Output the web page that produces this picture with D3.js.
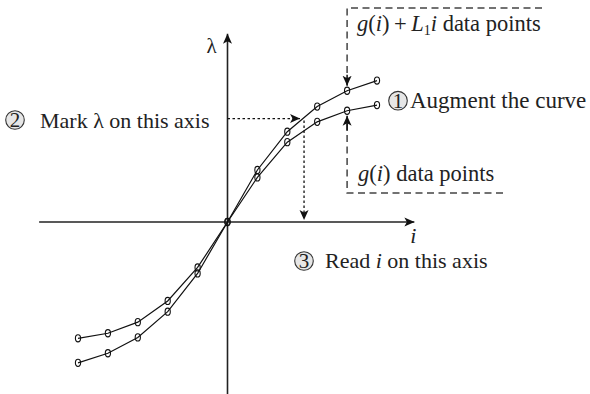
<!DOCTYPE html>
<html>
<head>
<meta charset="utf-8">
<script src="https://cdn.jsdelivr.net/npm/d3@7"></script>
<style>
  html, body { margin: 0; padding: 0; background: #fff; }
  svg { display: block; font-family: "Liberation Serif", "DejaVu Serif", serif; }
</style>
</head>
<body>
<svg id="chart" width="590" height="394"></svg>
<script>
// Current steps i and the two sampled curves
const steps = [-5, -4, -3, -2, -1, 0, 1, 2, 3, 4, 5];
const gValues = [-3.89, -3.72, -3.35, -2.64, -1.52, 0, 1.49, 2.67, 3.35, 3.72, 3.91];
const augmentedValues = [-4.71, -4.39, -3.86, -3.00, -1.72, 0, 1.74, 3.02, 3.86, 4.39, 4.73];

// Axis extents (in i and λ units)
const iAxisExtent = [-6.3, 6.25];
const lambdaAxisExtent = [-5.75, 6.3];

// The λ that is marked and the i that is read back
const markedLambda = 3.46;
const readI = 2.56;
// Step at which the two data-point call-outs point
const calloutStep = 4;

const svg = d3.select("#chart");
const x = d3.scaleLinear().domain([-6, 6]).range([227.5 - 179.4, 227.5 + 179.4]);
const y = d3.scaleLinear().domain([-6, 6]).range([222 + 179.4, 222 - 179.4]);

// Arrowhead marker
svg.append("defs").append("marker")
  .attr("id", "head")
  .attr("viewBox", "0 0 10 10")
  .attr("refX", 10).attr("refY", 5)
  .attr("markerWidth", 10).attr("markerHeight", 10)
  .attr("markerUnits", "userSpaceOnUse")
  .attr("orient", "auto")
  .append("path").attr("d", "M0,0.5 L10,5 L0,9.5 L2.5,5 Z").attr("fill", "#111");

// Axes
svg.append("line")
  .attr("x1", x(iAxisExtent[0])).attr("x2", x(iAxisExtent[1]))
  .attr("y1", y(0)).attr("y2", y(0))
  .attr("stroke", "#222").attr("stroke-width", 1.6)
  .attr("marker-end", "url(#head)");
svg.append("line")
  .attr("x1", x(0)).attr("x2", x(0))
  .attr("y1", y(lambdaAxisExtent[0])).attr("y2", y(lambdaAxisExtent[1]))
  .attr("stroke", "#222").attr("stroke-width", 1.6)
  .attr("marker-end", "url(#head)");

svg.append("text").attr("x", x(0) - 16).attr("y", y(lambdaAxisExtent[1]) + 19)
  .attr("text-anchor", "middle").attr("font-size", 21).attr("fill", "#222").text("λ");
svg.append("text").attr("x", x(iAxisExtent[1]) - 1).attr("y", y(0) + 21)
  .attr("text-anchor", "middle").attr("font-size", 22).attr("font-style", "italic")
  .attr("fill", "#222").text("i");

// Curves with hollow data-point markers
const line = d3.line().x(d => x(d[0])).y(d => y(d[1]));
[gValues, augmentedValues].forEach(vals => {
  const pts = steps.map((s, k) => [s, vals[k]]);
  svg.append("path").datum(pts).attr("d", line)
    .attr("fill", "none").attr("stroke", "#111").attr("stroke-width", 1.2);
  svg.selectAll(null).data(pts).enter().append("ellipse")
    .attr("cx", d => x(d[0])).attr("cy", d => y(d[1]))
    .attr("rx", 2.6).attr("ry", 3.6)
    .attr("fill", "none").attr("stroke", "#111").attr("stroke-width", 1.1);
});

function applyAttrs(sel, attrs) { Object.entries(attrs).forEach(([k, v]) => sel.attr(k, v)); return sel; }

// Dotted construction: mark λ, then drop to the i axis
const dotted = { stroke: "#111", "stroke-width": 1.3, "stroke-dasharray": "2.5,2.5" };
applyAttrs(svg.append("line")
  .attr("x1", x(0)).attr("y1", y(markedLambda))
  .attr("x2", x(readI) - 4).attr("y2", y(markedLambda))
  .attr("marker-end", "url(#head)"), dotted);
applyAttrs(svg.append("line")
  .attr("x1", x(readI)).attr("y1", y(markedLambda) + 2)
  .attr("x2", x(readI)).attr("y2", y(0) - 2)
  .attr("marker-end", "url(#head)"), dotted);

// Dashed call-out boxes with arrows to the data points at the call-out step
const dashed = { stroke: "#444", "stroke-width": 1.5, "stroke-dasharray": "7,4.5", fill: "none" };
const k4 = steps.indexOf(calloutStep);
const cx4 = x(calloutStep);
applyAttrs(svg.append("path")
  .attr("d", `M542,8 L${cx4},8 L${cx4},${y(augmentedValues[k4]) - 6}`), dashed);
svg.append("path")
  .attr("d", `M${cx4},${y(augmentedValues[k4]) - 16} L${cx4},${y(augmentedValues[k4]) - 5}`)
  .attr("stroke", "#111").attr("stroke-width", 1.5).attr("marker-end", "url(#head)");

applyAttrs(svg.append("path")
  .attr("d", `M503,193 L${cx4},193 L${cx4},${y(gValues[k4]) + 8}`), dashed);
svg.append("path")
  .attr("d", `M${cx4},${y(gValues[k4]) + 20} L${cx4},${y(gValues[k4]) + 5}`)
  .attr("stroke", "#111").attr("stroke-width", 1.5).attr("marker-end", "url(#head)");

// Text helpers
function richText(xPos, yPos, parts, size) {
  const t = svg.append("text").attr("x", xPos).attr("y", yPos)
    .attr("font-size", size).attr("fill", "#222");
  parts.forEach(p => {
    const s = t.append("tspan").text(p.t);
    if (p.i) s.attr("font-style", "italic");
    if (p.dy) s.attr("dy", p.dy);
    if (p.fs) s.attr("font-size", p.fs);
  });
  return t;
}
function badge(cx, cy, num) {
  svg.append("circle").attr("cx", cx).attr("cy", cy).attr("r", 9.3)
    .attr("fill", "#e6e6e6").attr("stroke", "#333").attr("stroke-width", 1.1);
  svg.append("text").attr("x", cx).attr("y", cy + 7).attr("text-anchor", "middle")
    .attr("font-size", 21).attr("fill", "#222").text(num);
}

richText(357, 31, [
  { t: "g", i: true }, { t: "(" }, { t: "i", i: true }, { t: ")\u2009+\u2009" },
  { t: "L", i: true }, { t: "1", fs: 14, dy: 4 }, { t: "i", i: true, dy: -4 },
  { t: " data points" }
], 22.5);
richText(358, 181, [
  { t: "g", i: true }, { t: "(" }, { t: "i", i: true }, { t: ")" }, { t: " data points" }
], 22.5);

badge(398, 100.7, "1");
richText(410, 108, [{ t: "Augment the curve" }], 23);

badge(15, 120, "2");
richText(40, 128, [{ t: "Mark λ on this axis" }], 22);

badge(304, 261, "3");
richText(325, 268, [{ t: "Read " }, { t: "i", i: true }, { t: " on this axis" }], 22);
</script>
</body>
</html>
